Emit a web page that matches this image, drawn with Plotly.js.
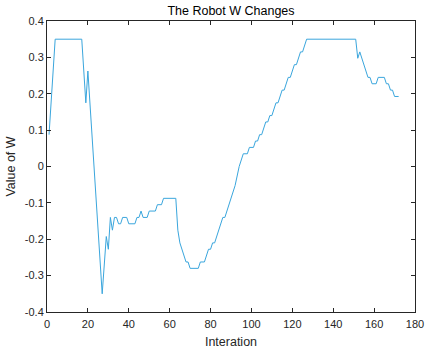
<!DOCTYPE html>
<html>
<head>
<meta charset="utf-8">
<script src="https://cdn.plot.ly/plotly-3.0.1.min.js"></script>
<style>html,body{margin:0;padding:0;background:#fff;}#chart{width:431px;height:351px;}</style>
</head>
<body>
<div id="chart"></div>
<script>
// Vertices of the W trace (iteration, value)
var iterations = [1, 4, 17, 19, 20, 27, 29, 30, 31, 32, 33, 34, 35, 36, 37, 39, 40, 43, 44, 45, 46, 47, 49, 50, 53, 54, 56, 57, 63,
  64, 65, 67, 68, 69, 70, 74, 75, 77, 78, 79, 80, 81, 82, 83, 84, 86, 87, 88, 90, 92, 94, 96, 98, 99, 101, 102, 103, 104, 105,
  106, 107, 108, 109, 110, 111, 112, 113, 114, 115, 116, 117, 118, 119, 120, 121, 122, 123, 124, 125, 126, 127, 151,
  152, 153, 154, 155, 156, 157, 158, 159, 161, 162, 165, 166, 167, 168, 169, 170, 172];
var wValues = [0.0875, 0.35, 0.35, 0.175, 0.2625, -0.35, -0.1925, -0.2275, -0.14, -0.175, -0.14, -0.14, -0.1575, -0.1575, -0.14, -0.14,
  -0.1575, -0.1575, -0.14, -0.14, -0.1225, -0.14, -0.14, -0.1225, -0.1225, -0.105, -0.105, -0.0875, -0.0875,
  -0.175, -0.21, -0.245, -0.2625, -0.2625, -0.28, -0.28, -0.2625, -0.2625, -0.245, -0.2275, -0.2275, -0.21, -0.21, -0.1925, -0.175,
  -0.14, -0.14, -0.1225, -0.0875, -0.0525, 0.0, 0.035, 0.035, 0.0525, 0.0525, 0.07, 0.07, 0.0875, 0.0875,
  0.105, 0.1225, 0.1225, 0.14, 0.14, 0.1575, 0.175, 0.175, 0.1925, 0.21, 0.21, 0.2275, 0.245, 0.245, 0.2625, 0.28, 0.28, 0.2975,
  0.315, 0.315, 0.3325, 0.35, 0.35,
  0.2975, 0.315, 0.2975, 0.28, 0.2625, 0.245, 0.245, 0.2275, 0.2275, 0.245, 0.245, 0.2275, 0.2275, 0.21, 0.21, 0.1925, 0.1925];

var xTicks = [0, 20, 40, 60, 80, 100, 120, 140, 160, 180];
var xTickLabels = ['0', '20', '40', '60', '80', '100', '120', '140', '160', '180'];
var yTicks = [-0.4, -0.3, -0.2, -0.1, 0, 0.1, 0.2, 0.3, 0.4];
var yTickLabels = ['-0.4', '-0.3', '-0.2', '-0.1', '0', '0.1', '0.2', '0.3', '0.4'];

var fontFam = 'Liberation Sans, Arial, Helvetica, sans-serif';
var axisCommon = {
  showgrid: false, zeroline: false, showline: true, mirror: 'ticks',
  linecolor: '#262626', linewidth: 1, ticks: 'inside', ticklen: 4, tickwidth: 1, tickcolor: '#262626',
  tickfont: {family: fontFam, size: 11, color: '#262626'}
};

var trace = {
  x: iterations, y: wValues, type: 'scatter', mode: 'lines',
  line: {color: '#3aa6dd', width: 1}, hoverinfo: 'skip'
};

var layout = {
  width: 431, height: 351,
  margin: {l: 47, r: 16, t: 21, b: 39},
  paper_bgcolor: '#ffffff', plot_bgcolor: '#ffffff',
  showlegend: false,
  title: {text: 'The Robot W Changes', font: {family: fontFam, size: 12.5, color: '#000000'},
          xref: 'paper', x: 0.5, xanchor: 'center', yref: 'container', y: 0.969, yanchor: 'middle'},
  xaxis: Object.assign({}, axisCommon, {
    range: [0, 180], tickmode: 'array', tickvals: xTicks, ticktext: xTickLabels, ticklabelstandoff: 2,
    title: {text: 'Interation', font: {family: fontFam, size: 12.5, color: '#262626'}, standoff: 8}
  }),
  yaxis: Object.assign({}, axisCommon, {
    range: [-0.4, 0.4], tickmode: 'array', tickvals: yTicks, ticktext: yTickLabels,
    title: {text: 'Value of W', font: {family: fontFam, size: 12.5, color: '#262626'}, standoff: 6}
  })
};

Plotly.newPlot('chart', [trace], layout, {displayModeBar: false, staticPlot: true});
</script>
</body>
</html>
